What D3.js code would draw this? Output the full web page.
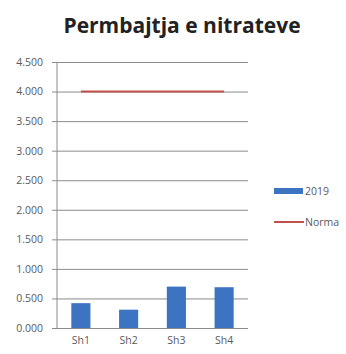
<!DOCTYPE html>
<html>
<head>
<meta charset="utf-8">
<script src="https://cdn.jsdelivr.net/npm/d3@7/dist/d3.min.js"></script>
<style>
  html, body { margin: 0; padding: 0; background: #fff; }
  svg { display: block; }
</style>
</head>
<body>
<svg id="chart" width="346" height="354"></svg>
<script>
// Nitrate content per sampling point
const categories = ["Sh1", "Sh2", "Sh3", "Sh4"];
const values2019 = [0.42, 0.31, 0.70, 0.69];
const normaValues = [4.0, 4.0, 4.0, 4.0];
const yTicks = [0, 0.5, 1, 1.5, 2, 2.5, 3, 3.5, 4, 4.5];
const seriesNames = ["2019", "Norma"];
const titleText = "Permbajtja e nitrateve";

const svg = d3.select("#chart");
const margin = { left: 57, right: 98, top: 62, bottom: 26 };
const W = 346, H = 354;
const innerW = W - margin.left - margin.right;
const innerH = H - margin.top - margin.bottom;

const fmt = d => d.toFixed(3);
const blue = "#3c74c2";
const red = "#c0504d";
const grid = "#8c8c8c";
const font = "'Open Sans', sans-serif";
const labelColor = "#5a5a5a";

svg.append("text")
  .attr("x", 182).attr("y", 33)
  .attr("text-anchor", "middle")
  .attr("font-family", font)
  .attr("font-weight", "bold")
  .attr("font-size", 21)
  .attr("fill", "#222")
  .text(titleText);

const g = svg.append("g").attr("transform", `translate(${margin.left},${margin.top})`);

const x = d3.scaleBand().domain(categories).range([0, innerW]).paddingInner(0.6).paddingOuter(0.3);
const xc = d3.scaleBand().domain(categories).range([0, innerW]);
const y = d3.scaleLinear().domain([0, 4.5]).range([innerH, 0]);

// Horizontal grid with outward tick marks
const yAxis = d3.axisLeft(y).tickValues(yTicks).tickFormat(fmt).tickSize(-innerW).tickPadding(10);
const yg = g.append("g").call(yAxis);
yg.select(".domain").remove();
yg.selectAll(".tick line").attr("stroke", grid).attr("x1", -5);
yg.selectAll(".tick text")
  .attr("font-family", font).attr("font-size", 10.5).attr("fill", labelColor).attr("x", -14);

// Vertical axis line
g.append("line").attr("x1", 0).attr("x2", 0).attr("y1", 0).attr("y2", innerH)
  .attr("stroke", grid);

// Bars
g.selectAll("rect.bar").data(values2019).join("rect")
  .attr("class", "bar")
  .attr("x", (d, i) => x(categories[i]))
  .attr("width", x.bandwidth())
  .attr("y", d => y(d))
  .attr("height", d => innerH - y(d))
  .attr("fill", blue);

// Norma line through category centres
const line = d3.line()
  .x((d, i) => xc(categories[i]) + xc.bandwidth() / 2)
  .y(d => y(d));
g.append("path").datum(normaValues)
  .attr("d", line)
  .attr("fill", "none")
  .attr("stroke", red)
  .attr("stroke-width", 2);

// Category labels
const xg = g.append("g").attr("transform", `translate(0,${innerH})`)
  .call(d3.axisBottom(xc).tickSize(0).tickPadding(9));
xg.select(".domain").remove();
xg.selectAll(".tick text")
  .attr("font-family", font).attr("font-size", 10.5).attr("fill", labelColor);

// Legend
const lg = svg.append("g").attr("transform", "translate(274,0)");
lg.append("rect").attr("x", 0).attr("y", 188).attr("width", 29).attr("height", 6).attr("fill", blue);
lg.append("line").attr("x1", 0).attr("x2", 30).attr("y1", 222).attr("y2", 222)
  .attr("stroke", red).attr("stroke-width", 2);
lg.selectAll("text.leg").data(seriesNames).join("text")
  .attr("class", "leg")
  .attr("x", 31)
  .attr("y", (d, i) => i === 0 ? 195 : 226)
  .attr("font-family", font).attr("font-size", 10.5).attr("fill", labelColor)
  .text(d => d);
</script>
</body>
</html>
